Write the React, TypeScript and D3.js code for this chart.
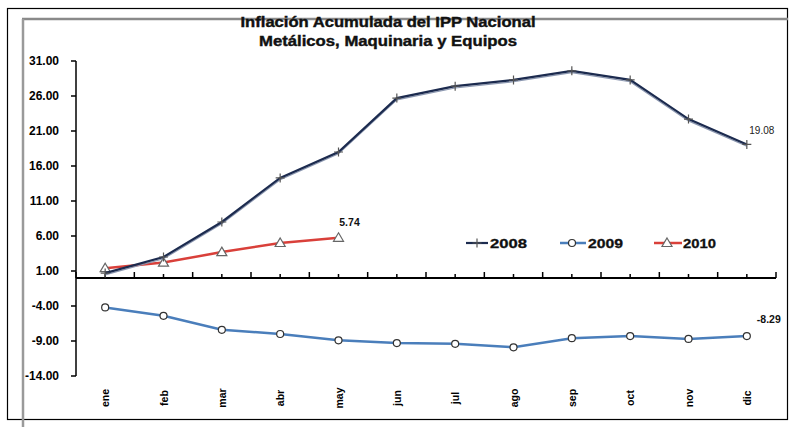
import React from "react";
import * as d3 from "d3";

const months = ["ene", "feb", "mar", "abr", "may", "jun", "jul", "ago", "sep", "oct", "nov", "dic"];
const s2008 = [0.7, 3.0, 8.0, 14.3, 18.0, 25.7, 27.4, 28.3, 29.6, 28.3, 22.7, 19.08];
const s2009 = [-4.2, -5.4, -7.4, -8.0, -8.9, -9.3, -9.4, -9.9, -8.6, -8.3, -8.7, -8.29];
const s2010 = [1.4, 2.2, 3.7, 5.0, 5.74];
const yTicks = [31, 26, 21, 16, 11, 6, 1, -4, -9, -14];
const titleLines = ["Inflación Acumulada del IPP Nacional", "Metálicos, Maquinaria y Equipos"];

const W = 789, H = 427;
const left = 76, right = 776;
const FONT = "'Liberation Sans', Arial, sans-serif";

export default function App() {
  const x = d3.scaleBand<string>().domain(months).range([left, right]);
  const cx = (i: number) => (x(months[i]) as number) + x.bandwidth() / 2;
  const y = d3.scaleLinear().domain([-14, 31]).range([376, 61]);
  const line = d3.line<number>().x((_, i) => cx(i)).y((d) => y(d));

  const boundaries = d3.range(months.length + 1).map((i) => left + i * x.bandwidth());
  const titleLen = [295, 258];

  return (
    <svg width={W} height={H} style={{ display: "block", position: "absolute", left: 0, top: 0 }} fontFamily={FONT}>
      <rect x={0} y={0} width={W} height={H} fill="#fff" />
      {/* frame */}
      <rect x={7.5} y={8.5} width={780} height={411} fill="none" stroke="#000" strokeWidth={1.2} />
      <line x1={22} y1={19} x2={788} y2={19} stroke="#8a8a8a" strokeWidth={2.5} />
      <line x1={23} y1={19} x2={23} y2={427} stroke="#9a9a9a" strokeWidth={2.5} />

      {/* title */}
      {titleLines.map((t, i) => (
        <text key={i} x={388} y={27 + i * 18.5} textAnchor="middle" fontSize={14} fontWeight="bold" fill="#111"
          textLength={titleLen[i]} lengthAdjust="spacingAndGlyphs" stroke="#111" strokeWidth={0.4}>
          {t}
        </text>
      ))}

      {/* y axis */}
      <line x1={left} y1={y(31)} x2={left} y2={y(-14)} stroke="#000" strokeWidth={1.5} />
      {yTicks.map((t) => (
        <g key={t}>
          <line x1={left - 5} y1={y(t)} x2={left} y2={y(t)} stroke="#000" strokeWidth={1.5} />
          <text x={59} y={y(t)} dy="0.35em" textAnchor="end" fontSize={12} fontWeight="bold" fill="#000">
            {t.toFixed(2)}
          </text>
        </g>
      ))}

      {/* x axis at 0 */}
      <line x1={left} y1={y(0)} x2={right} y2={y(0)} stroke="#000" strokeWidth={2} />
      {boundaries.map((b, i) => (
        <line key={"b" + i} x1={b} y1={y(0)} x2={b} y2={y(0) - 6} stroke="#000" strokeWidth={1.5} />
      ))}
      {months.map((m, i) => (
        <line key={"c" + i} x1={cx(i)} y1={y(0)} x2={cx(i)} y2={y(0) - 4} stroke="#000" strokeWidth={1.5} />
      ))}
      {months.map((m, i) => (
        <text key={m} transform={`translate(${cx(i) + 4},398) rotate(-90)`} textAnchor="middle" fontSize={10.5} fontWeight="bold" fill="#000">
          {m}
        </text>
      ))}

      {/* 2009 */}
      <path d={line(s2009) || ""} fill="none" stroke="#4a7ebb" strokeWidth={2.5} />
      {s2009.map((v, i) => (
        <circle key={i} cx={cx(i)} cy={y(v)} r={3.5} fill="#fff" stroke="#333" strokeWidth={1.2} />
      ))}

      {/* 2010 */}
      <path d={line(s2010) || ""} fill="none" stroke="#d9403a" strokeWidth={2.5} />
      {s2010.map((v, i) => (
        <path key={i} d={`M${cx(i)},${y(v) - 5}L${cx(i) + 5},${y(v) + 3.5}L${cx(i) - 5},${y(v) + 3.5}Z`} fill="#fff" stroke="#666" strokeWidth={1.2} />
      ))}

      {/* 2008 */}
      <path d={line(s2008) || ""} fill="none" stroke="#8b97b0" strokeWidth={1.2} transform="translate(0,1.8)" />
      <path d={line(s2008) || ""} fill="none" stroke="#1c2b4f" strokeWidth={2.2} />
      {s2008.map((v, i) => (
        <path key={i} d={`M${cx(i) - 4.5},${y(v)}H${cx(i) + 4.5}M${cx(i)},${y(v) - 4.5}V${y(v) + 4.5}`} stroke="#555" strokeWidth={1.2} />
      ))}

      {/* data labels */}
      <text x={cx(11) + 15} y={y(19.08) - 10} textAnchor="middle" fontSize={10} fill="#222">19.08</text>
      <text x={cx(4) + 11} y={y(5.74) - 12} textAnchor="middle" fontSize={10.5} fontWeight="bold" fill="#111">5.74</text>
      <text x={cx(11) + 22} y={y(-8.29) - 13} textAnchor="middle" fontSize={10.5} fontWeight="bold" fill="#111">-8.29</text>

      {/* legend */}
      <g fontSize={12.5} fontWeight="bold" fill="#111" stroke="#111" strokeWidth={0.3}>
        <line x1={466} y1={243} x2={488} y2={243} stroke="#1c2b4f" strokeWidth={2.2} />
        <path d="M477,238.5V247.5M472.5,243H481.5" stroke="#555" strokeWidth={1.2} />
        <text x={490} y={247.5} textLength={37} lengthAdjust="spacingAndGlyphs">2008</text>
        <line x1={560} y1={243} x2={586} y2={243} stroke="#4a7ebb" strokeWidth={2.5} />
        <circle cx={572} cy={243} r={3.5} fill="#fff" stroke="#333" strokeWidth={1.2} />
        <text x={588} y={247.5} textLength={35} lengthAdjust="spacingAndGlyphs">2009</text>
        <line x1={654} y1={243} x2={682} y2={243} stroke="#d9403a" strokeWidth={2.5} />
        <path d="M667,238L672,246.5L662,246.5Z" fill="#fff" stroke="#666" strokeWidth={1.2} />
        <text x={683} y={247.5} textLength={33} lengthAdjust="spacingAndGlyphs">2010</text>
      </g>
    </svg>
  );
}
